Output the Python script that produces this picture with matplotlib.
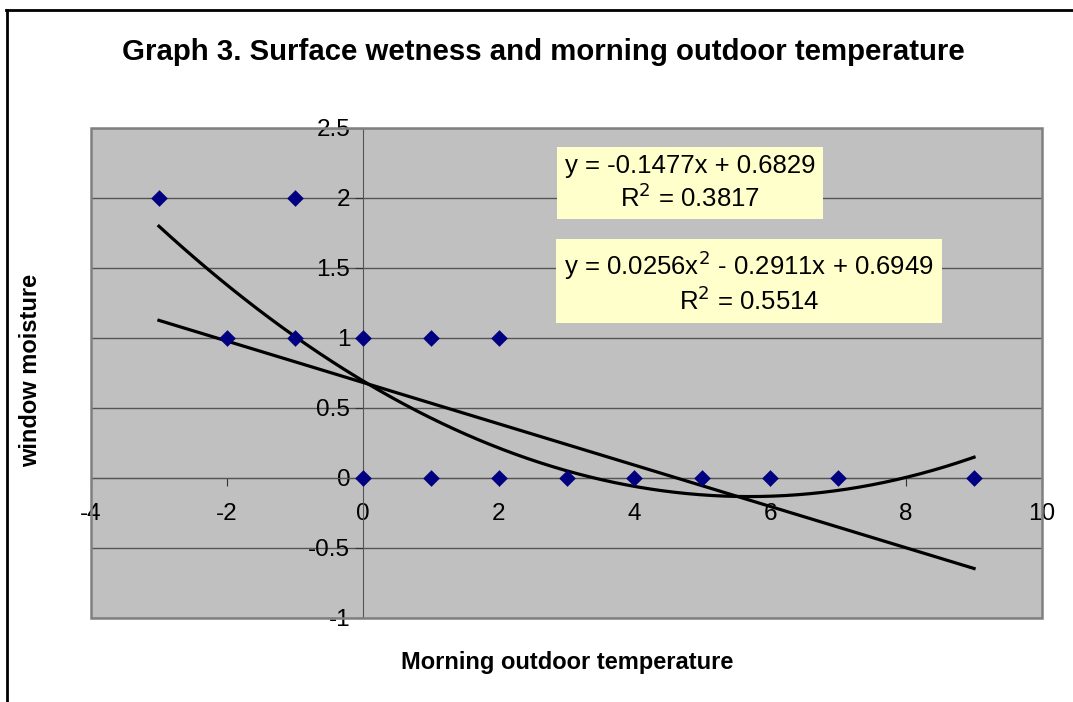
import numpy as np
import matplotlib
matplotlib.use("Agg")
import matplotlib.pyplot as plt
from matplotlib.patches import Rectangle
from matplotlib.lines import Line2D

plt.rcParams['font.family'] = ['Liberation Sans', 'DejaVu Sans']
plt.rcParams['axes.unicode_minus'] = False

temp = [-3, -1, -2, -1, 0, 1, 2, 0, 1, 2, 3, 4, 5, 6, 7, 9]
moisture = [2, 2, 1, 1, 1, 1, 1, 0, 0, 0, 0, 0, 0, 0, 0, 0]

# trendline coefficients as printed on the chart
lin_coef = [-0.1477, 0.6829]
quad_coef = [0.0256, -0.2911, 0.6949]
lin_label = "y = -0.1477x + 0.6829\nR$^2$ = 0.3817"
quad_label = "y = 0.0256x$^2$ - 0.2911x + 0.6949\nR$^2$ = 0.5514"

fig = plt.figure(figsize=(10.73, 7.02), dpi=100)
ax = fig.add_axes([91 / 1073, 1 - 618 / 702, 951 / 1073, 490 / 702])
ax.set_facecolor('#c0c0c0')

ax.set_xlim(-4, 10)
ax.set_ylim(-1, 2.5)
ax.set_xticks(np.arange(-4, 11, 2))
ax.set_yticks(np.arange(-1, 2.51, 0.5))
ax.yaxis.set_major_formatter(matplotlib.ticker.FormatStrFormatter('%g'))
ax.yaxis.grid(True, color='#555555', linewidth=1)
ax.set_axisbelow(True)

for s in ['top', 'right']:
    ax.spines[s].set_visible(False)
ax.spines['left'].set_position(('data', 0))
ax.spines['bottom'].set_position(('data', 0))
ax.spines['left'].set_color('#555555')
ax.spines['bottom'].set_color('#555555')
ax.tick_params(axis='both', direction='out', length=6, color='#333333',
               labelsize=17.5, pad=3)
ax.tick_params(axis='x', pad=12)

# plot area border
ax.add_patch(Rectangle((0, 0), 1, 1, transform=ax.transAxes, fill=False,
                       edgecolor='#808080', linewidth=1.8, clip_on=False, zorder=5))

xs = np.linspace(min(temp), max(temp), 200)
ax.plot(xs, np.polyval(lin_coef, xs), color='black', linewidth=2.3, zorder=3)
ax.plot(xs, np.polyval(quad_coef, xs), color='black', linewidth=2.3, zorder=3)

ax.scatter(temp, moisture, marker='D', s=72, color='#000080', zorder=4,
           linewidths=0)

ax.text(690 / 1073, 1 - 183 / 702, lin_label, transform=fig.transFigure,
        ha='center', va='center', fontsize=18.5, linespacing=1.2,
        bbox=dict(boxstyle='square,pad=0.3', facecolor='#ffffcc',
                  edgecolor='none'))
ax.text(749 / 1073, 1 - 282 / 702, quad_label, transform=fig.transFigure,
        ha='center', va='center', fontsize=18.5, linespacing=1.2,
        bbox=dict(boxstyle='square,pad=0.3', facecolor='#ffffcc',
                  edgecolor='none'))

fig.text(543 / 1073, 1 - 52 / 702,
         "Graph 3. Surface wetness and morning outdoor temperature",
         ha='center', va='center', fontsize=21.2, fontweight='bold')
fig.text(567 / 1073, 1 - 662 / 702, "Morning outdoor temperature",
         ha='center', va='center', fontsize=17, fontweight='bold')
fig.text(31 / 1073, 1 - 370 / 702, "window moisture", rotation=90,
         ha='center', va='center', fontsize=17, fontweight='bold')

# outer chart border (left and top only, as in the crop)
fig.add_artist(Line2D([7 / 1073, 7 / 1073], [0, 1 - 10 / 702], color='black',
                      linewidth=2, transform=fig.transFigure))
fig.add_artist(Line2D([6 / 1073, 1], [1 - 10 / 702, 1 - 10 / 702], color='black',
                      linewidth=2, transform=fig.transFigure))

fig.savefig("out.png", dpi=100)
